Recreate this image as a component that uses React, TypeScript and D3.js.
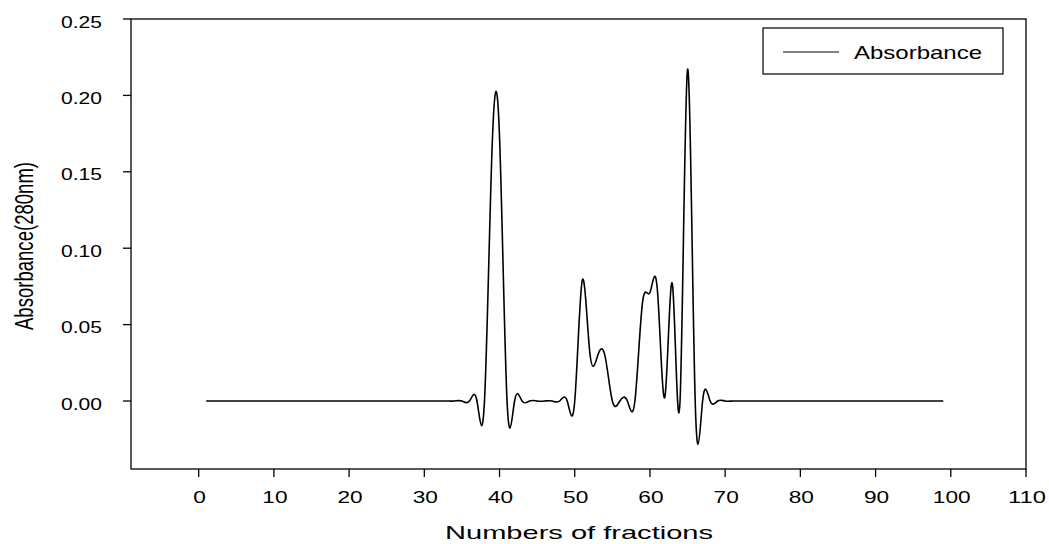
import React from "react";
import * as d3 from "d3";

// Fraction numbers 1..99
const fractions: number[] = d3.range(1, 100);

// Absorbance (280 nm) per fraction
const absorbance: number[] = [
  // 1-10
  0, 0, 0, 0, 0, 0, 0, 0, 0, 0,
  // 11-20
  0, 0, 0, 0, 0, 0, 0, 0, 0, 0,
  // 21-30
  0, 0, 0, 0, 0, 0, 0, 0, 0, 0,
  // 31-40
  0, 0, 0, 0, 0, 0, 0, 0, 0.164, 0.173,
  // 41-50
  0, 0, 0, 0, 0, 0, 0, 0, 0, 0,
  // 51-60
  0.079, 0.032, 0.029, 0.03, 0, 0, 0, 0, 0.064, 0.071,
  // 61-70
  0.072, 0.003, 0.076, 0, 0.217, 0.003, 0, 0, 0, 0,
  // 71-80
  0, 0, 0, 0, 0, 0, 0, 0, 0, 0,
  // 81-90
  0, 0, 0, 0, 0, 0, 0, 0, 0, 0,
  // 91-99
  0, 0, 0, 0, 0, 0, 0, 0, 0,
];

const xTicks: number[] = [0, 10, 20, 30, 40, 50, 60, 70, 80, 90, 100, 110];
const yTicks: number[] = [0, 0.05, 0.1, 0.15, 0.2, 0.25];
const xDomain: [number, number] = [-9, 110];
const yDomain: [number, number] = [-0.0445, 0.25];

const seriesName = "Absorbance";
const xTitle = "Numbers of fractions";
const yTitle = "Absorbance(280nm)";

const W = 1049;
const H = 544;
const L = 131;
const R = 1026;
const T = 19;
const B = 469;
const FONT = "'Liberation Sans', Arial, sans-serif";

export default function App() {
  const x = d3.scaleLinear().domain(xDomain).range([L, R]);
  const y = d3.scaleLinear().domain(yDomain).range([B, T]);
  const data = fractions.map((f, i) => [f, absorbance[i]] as [number, number]);
  const line = d3
    .line<[number, number]>()
    .x((d) => x(d[0]))
    .y((d) => y(d[1]))
    .curve(d3.curveNatural);
  const fmt = d3.format(".2f");

  return (
    <svg
      width={W}
      height={H}
      style={{ position: "absolute", left: 0, top: 0, background: "#fff" }}
      fontFamily={FONT}
    >
      <rect x={0} y={0} width={W} height={H} fill="#fff" />
      {/* frame */}
      <rect x={L} y={T} width={R - L} height={B - T} fill="none" stroke="#000" strokeWidth={1.3} />
      {/* y ticks */}
      {yTicks.map((t) => (
        <g key={"y" + t}>
          <line x1={L - 8} x2={L} y1={y(t)} y2={y(t)} stroke="#000" strokeWidth={1.3} />
          <text
            x={102}
            y={y(t) + 8.5}
            textAnchor="end"
            fontSize={16.5}
            textLength={41}
            lengthAdjust="spacingAndGlyphs"
            fill="#000"
          >
            {fmt(t)}
          </text>
        </g>
      ))}
      {/* x ticks */}
      {xTicks.map((t) => {
        const s = String(t);
        return (
          <g key={"x" + t}>
            <line x1={x(t)} x2={x(t)} y1={B} y2={B + 8} stroke="#000" strokeWidth={1.3} />
            <text
              x={x(t) + 1}
              y={503}
              textAnchor="middle"
              fontSize={16.5}
              textLength={12.6 * s.length}
              lengthAdjust="spacingAndGlyphs"
              fill="#000"
            >
              {s}
            </text>
          </g>
        );
      })}
      {/* curve */}
      <path d={line(data) || ""} fill="none" stroke="#000" strokeWidth={1.6} strokeLinejoin="round" />
      {/* legend */}
      <rect x={763} y={28} width={240} height={46} fill="#fff" stroke="#000" strokeWidth={1.2} />
      <line x1={783} x2={839} y1={52} y2={52} stroke="#000" strokeWidth={1.2} />
      <text x={854} y={58.5} fontSize={18.5} textLength={128} lengthAdjust="spacingAndGlyphs" fill="#000">
        {seriesName}
      </text>
      {/* axis titles */}
      <text
        x={579}
        y={539}
        textAnchor="middle"
        fontSize={19}
        textLength={268}
        lengthAdjust="spacingAndGlyphs"
        fill="#000"
      >
        {xTitle}
      </text>
      <text
        transform="translate(33,246) scale(1.36,1) rotate(-90)"
        textAnchor="middle"
        fontSize={18.5}
        textLength={168}
        lengthAdjust="spacingAndGlyphs"
        fill="#000"
      >
        {yTitle}
      </text>
    </svg>
  );
}
